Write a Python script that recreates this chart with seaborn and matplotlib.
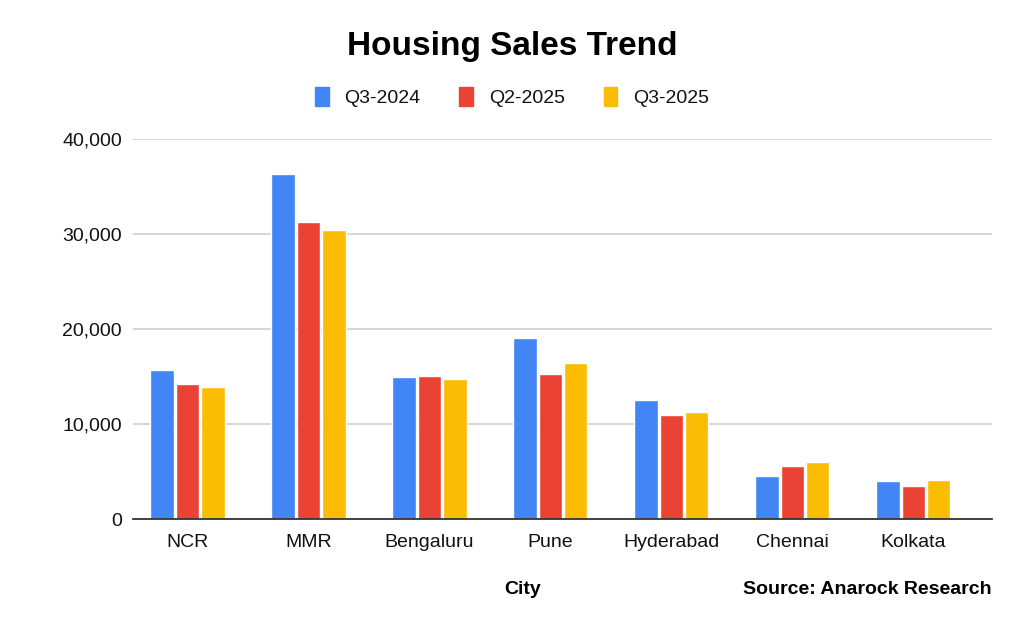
import matplotlib
matplotlib.use("Agg")
import matplotlib.pyplot as plt
import matplotlib.ticker as mticker
import pandas as pd
import seaborn as sns

# Values (units sold)
cities = ["NCR", "MMR", "Bengaluru", "Pune", "Hyderabad", "Chennai", "Kolkata"]
periods = ["Q3-2024", "Q2-2025", "Q3-2025"]
q3_2024 = [15650, 36300, 14950, 19050, 12550, 4500, 3950]
q2_2025 = [14250, 31300, 15100, 15250, 10950, 5600, 3450]
q3_2025 = [13850, 30400, 14750, 16450, 11300, 5950, 4100]
yticks = [0, 10000, 20000, 30000, 40000]

colors = ["#4285F4", "#EA4335", "#FBBC04"]

df = pd.DataFrame({
    "City": cities * 3,
    "Period": [p for p in periods for _ in cities],
    "Sales": q3_2024 + q2_2025 + q3_2025,
})

sns.set_style("white")
plt.rcParams["font.family"] = ["Liberation Sans", "DejaVu Sans"]
plt.rcParams["text.color"] = "black"

fig = plt.figure(figsize=(10.24, 6.33), dpi=100)
ax = fig.add_axes([133 / 1024, 1 - 519 / 633, (992 - 133) / 1024, (519 - 139) / 633])

sns.barplot(data=df, x="City", y="Sales", hue="Period", order=cities,
            hue_order=periods, palette=colors, width=0.63, gap=0.08,
            saturation=1, ax=ax, legend=False, zorder=3)

ax.set_ylim(0, 40000)
ax.set_xlim(-0.45, 6.65)
ax.set_yticks(yticks)
ax.yaxis.set_major_formatter(mticker.StrMethodFormatter("{x:,.0f}"))
ax.grid(axis="y", color="#cccccc", linewidth=1.1, zorder=0)
ax.set_axisbelow(True)
for side in ["top", "right", "left"]:
    ax.spines[side].set_visible(False)
ax.spines["bottom"].set_color("#333333")
ax.spines["bottom"].set_linewidth(1.3)
ax.spines["bottom"].set_zorder(4)
ax.tick_params(axis="both", length=0, labelsize=14, colors="#111111")
ax.tick_params(axis="x", pad=11)
ax.tick_params(axis="y", pad=8)
ax.set_xlabel("")
ax.set_ylabel("")

fig.text(0.5, 1 - 47 / 633, "Housing Sales Trend", ha="center", va="center",
         fontsize=24, fontweight="bold", color="black")
fig.text(523 / 1024, 1 - 590 / 633, "City", ha="center", va="center",
         fontsize=14, fontweight="bold", color="black")
fig.text(992 / 1024, 1 - 590 / 633, "Source: Anarock Research", ha="right",
         va="center", fontsize=14, fontweight="bold", color="black")

handles = [plt.Rectangle((0, 0), 1, 1, color=c) for c in colors]
fig.legend(handles, periods, loc="center", bbox_to_anchor=(0.5, 1 - 97 / 633),
           ncol=3, frameon=False, fontsize=14, handlelength=0.7,
           handleheight=1.1, handletextpad=0.8, columnspacing=2.0,
           labelcolor="#111111")

fig.savefig("out.png", dpi=100, facecolor="white")
